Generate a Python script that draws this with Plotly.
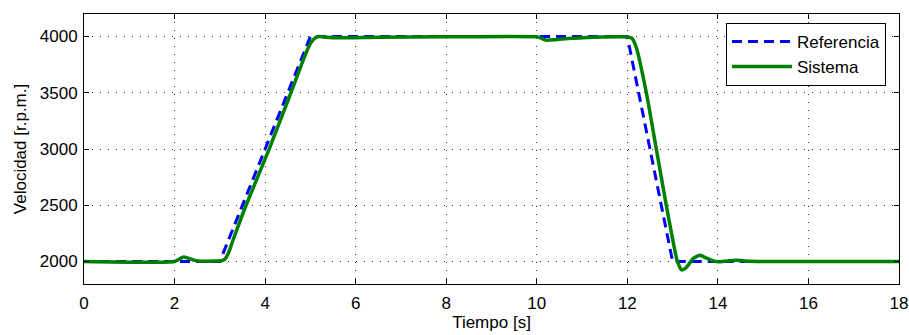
import plotly.graph_objects as go

# Reference (dashed)
t_ref = [0, 3, 5, 12, 13, 18]
v_ref = [2000, 2000, 4000, 4000, 2000, 2000]

# System response (green)
t_sys = [0, 2.0, 2.1, 2.2, 2.3, 2.45, 2.6, 2.9, 3.05, 3.12, 3.2, 3.3, 3.58, 4.09, 4.57,
         4.93, 5.03, 5.12, 5.2, 5.35, 5.65, 6.5, 8.0, 10.0, 10.1, 10.2, 10.4, 10.7, 11.0, 11.5,
         12.0, 12.1, 12.2, 12.42, 12.64, 12.86, 13.0, 13.1, 13.2, 13.3, 13.45, 13.6, 13.75,
         13.9, 14.0, 14.2, 14.4, 14.6, 15.0, 18]
v_sys = [2000, 2000, 2020, 2040, 2030, 2010, 2002, 2004, 2008, 2025, 2085, 2200, 2500, 3000, 3500,
         3880, 3955, 3992, 4000, 3993, 3988, 3994, 3997, 3997, 3985, 3968, 3972, 3982, 3990, 3996,
         3996, 3985, 3900, 3500, 3000, 2500, 2200, 2010, 1925, 1945, 2025, 2055, 2030,
         2005, 1998, 2005, 2012, 2005, 2000, 2000]

x_ticks = [0, 2, 4, 6, 8, 10, 12, 14, 16, 18]
y_ticks = [2000, 2500, 3000, 3500, 4000]

fig = go.Figure()
fig.add_trace(go.Scatter(x=t_ref, y=v_ref, mode="lines", name="Referencia",
                         line=dict(color="#0000FF", width=3, dash="10px,6px")))
fig.add_trace(go.Scatter(x=t_sys, y=v_sys, mode="lines", name="Sistema",
                         line=dict(color="#008000", width=3.5, shape="spline", smoothing=0.6)))

FAM = "Liberation Sans, Arial, sans-serif"
font = dict(family=FAM, size=17, color="#000")
axis_common = dict(showline=True, linecolor="#000", linewidth=1, mirror="ticks",
                   ticks="inside", ticklen=5, tickcolor="#000", tickfont=font,
                   showgrid=True, gridcolor="#333", gridwidth=1, griddash="1px,7px",
                   zeroline=False, automargin=False)

fig.update_layout(
    width=909, height=335,
    margin=dict(l=84, r=10, t=14, b=51),
    paper_bgcolor="white", plot_bgcolor="white",
    font=font,
    showlegend=True,
    legend=dict(x=0.984, y=0.967, xanchor="right", yanchor="top",
                bordercolor="#000", borderwidth=1, bgcolor="white",
                font=dict(family=FAM, size=17, color="#000"),
                tracegroupgap=0, itemwidth=60),
    xaxis=dict(range=[0, 18], tickvals=x_ticks, ticktext=[str(v) for v in x_ticks],
               ticklabelstandoff=4,
               title=dict(text="Tiempo [s]", font=font, standoff=2), **axis_common),
    yaxis=dict(range=[1800, 4200], tickvals=y_ticks, ticktext=[str(v) for v in y_ticks],
               ticklabelstandoff=2,
               title=dict(text="Velocidad [r.p.m.]", font=font, standoff=8), **axis_common),
)

fig.write_html("out.html")
